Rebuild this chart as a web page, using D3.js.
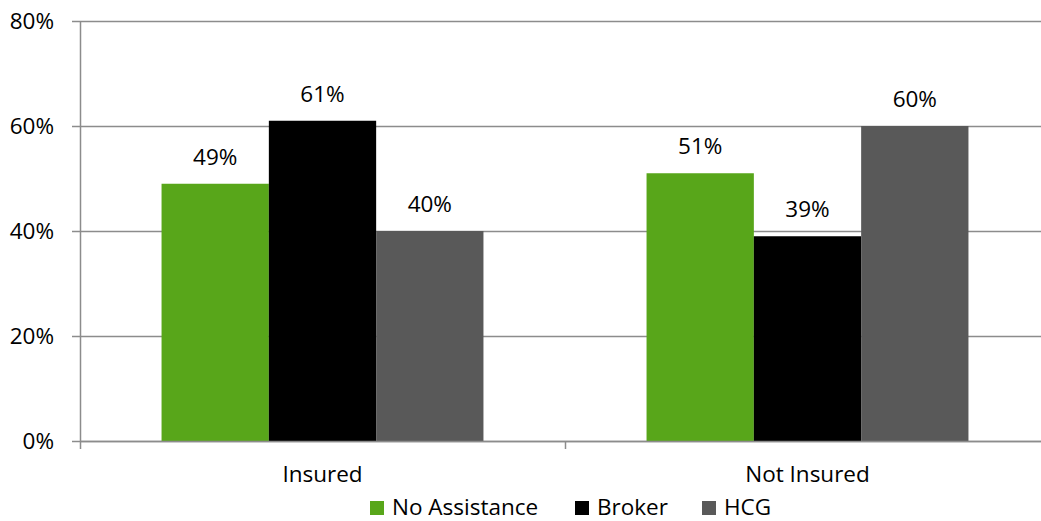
<!DOCTYPE html>
<html>
<head>
<meta charset="utf-8">
<script src="https://cdnjs.cloudflare.com/ajax/libs/d3/7.8.5/d3.min.js"></script>
<style>
  html, body { margin: 0; padding: 0; background: #fff; }
  svg { display: block; font-family: "Open Sans", "Noto Sans", sans-serif; }
</style>
</head>
<body>
<svg id="chart" width="1041" height="521"></svg>
<script>
// Share of respondents by insurance status and type of assistance
const categories = ["Insured", "Not Insured"];
const seriesNames = ["No Assistance", "Broker", "HCG"];
const noAssistance = [49, 51];
const broker = [61, 39];
const hcg = [40, 60];
const yTicks = [0, 20, 40, 60, 80];

const seriesValues = [noAssistance, broker, hcg];
const colors = ["#58A61A", "#000000", "#595959"];
const fontSize = 22.5;

const svg = d3.select("#chart");
const plotLeft = 80, plotRight = 1050, plotTop = 21, plotBottom = 441;

const x0 = d3.scaleBand().domain(categories).range([plotLeft, plotRight]).paddingInner(0).paddingOuter(0);
const x1 = d3.scaleBand().domain(seriesNames).range([0, x0.bandwidth()])
  .paddingInner(0).paddingOuter(0.76);
const y = d3.scaleLinear().domain([0, 80]).range([plotBottom, plotTop]);

// gridlines
svg.append("g").selectAll("line").data(yTicks).join("line")
  .attr("x1", plotLeft - 8).attr("x2", plotRight)
  .attr("y1", d => y(d) + 0.5).attr("y2", d => y(d) + 0.5)
  .attr("stroke", "#8c8c8c").attr("stroke-width", 1.5);

// y tick labels
svg.append("g").selectAll("text").data(yTicks).join("text")
  .attr("x", 54).attr("y", d => y(d) + 8)
  .attr("text-anchor", "end").attr("font-size", fontSize).attr("fill", "#000")
  .text(d => d + "%");

// bars and value labels
const rows = (c, i) => seriesNames.map((s, j) => ({ s, v: seriesValues[j][i], j }));
const groups = svg.append("g").selectAll("g").data(categories).join("g")
  .attr("transform", d => `translate(${x0(d)},0)`);

groups.selectAll("rect").data(rows).join("rect")
  .attr("x", d => x1(d.s)).attr("width", x1.bandwidth())
  .attr("y", d => y(d.v)).attr("height", d => plotBottom - y(d.v))
  .attr("fill", d => colors[d.j]);

groups.selectAll("text").data(rows).join("text")
  .attr("x", d => x1(d.s) + x1.bandwidth() / 2).attr("y", d => y(d.v) - 19)
  .attr("text-anchor", "middle").attr("font-size", fontSize).attr("fill", "#000")
  .text(d => d.v + "%");

// axis lines and category tick
svg.append("line").attr("x1", plotLeft + 0.5).attr("x2", plotLeft + 0.5).attr("y1", plotTop).attr("y2", plotBottom + 8)
  .attr("stroke", "#8c8c8c").attr("stroke-width", 1.5);
svg.append("line").attr("x1", plotLeft).attr("x2", plotRight).attr("y1", plotBottom + 0.5).attr("y2", plotBottom + 0.5)
  .attr("stroke", "#8c8c8c").attr("stroke-width", 1.5);
svg.append("g").selectAll("line").data(categories.slice(1)).join("line")
  .attr("x1", d => x0(d) + 0.5).attr("x2", d => x0(d) + 0.5)
  .attr("y1", plotBottom).attr("y2", plotBottom + 8)
  .attr("stroke", "#8c8c8c").attr("stroke-width", 1.5);

// category labels
svg.append("g").selectAll("text").data(categories).join("text")
  .attr("x", d => x0(d) + x0.bandwidth() / 2).attr("y", 482)
  .attr("text-anchor", "middle").attr("font-size", fontSize).attr("fill", "#000")
  .text(d => d);

// legend
const legendX = [370, 575, 702];
const lg = svg.append("g").selectAll("g").data(seriesNames).join("g")
  .attr("transform", (d, i) => `translate(${legendX[i]},501)`);
lg.append("rect").attr("width", 14).attr("height", 14).attr("fill", (d, i) => colors[i]);
lg.append("text").attr("x", 22).attr("y", 14).attr("font-size", fontSize).attr("fill", "#000").text(d => d);
</script>
</body>
</html>
